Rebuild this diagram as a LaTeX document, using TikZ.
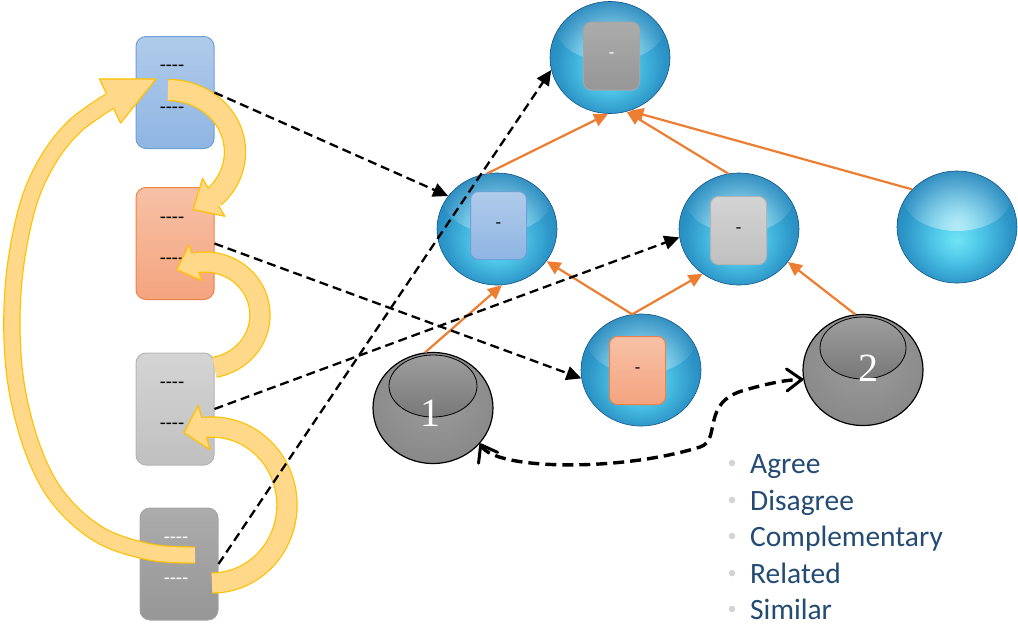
\documentclass[tikz,border=0pt]{standalone}
\usepackage{fontspec}
\setmainfont{Carlito}
\newfontfamily\numfont{Liberation Serif}
\newfontfamily\calfont{Carlito}
\usetikzlibrary{arrows.meta,shapes.geometric,fadings,calc}
\definecolor{glowc}{RGB}{112,228,245}
\definecolor{glow2}{RGB}{78,198,232}
\definecolor{midc}{RGB}{45,150,200}
\definecolor{darkb}{RGB}{30,120,175}
\definecolor{rimb}{RGB}{22,98,150}
\definecolor{rimc}{RGB}{18,85,135}
\definecolor{gball1}{RGB}{158,158,158}
\definecolor{gball2}{RGB}{120,120,120}
\definecolor{bluetop}{RGB}{176,203,234}
\definecolor{bluebot}{RGB}{143,181,227}
\definecolor{bluebd}{RGB}{110,160,216}
\definecolor{ortop}{RGB}{247,193,166}
\definecolor{orbot}{RGB}{244,164,127}
\definecolor{orbd}{RGB}{238,130,70}
\definecolor{lgtop}{RGB}{212,212,212}
\definecolor{lgbot}{RGB}{192,192,192}
\definecolor{lgbd}{RGB}{180,180,180}
\definecolor{dgtop}{RGB}{172,172,172}
\definecolor{dgbot}{RGB}{150,150,150}
\definecolor{dgbd}{RGB}{165,165,165}
\definecolor{yfill}{RGB}{255,216,138}
\definecolor{yborder}{RGB}{255,192,0}
\definecolor{linkor}{RGB}{237,125,49}
\definecolor{textblue}{RGB}{35,75,115}
\definecolor{bulletc}{RGB}{212,212,212}
\pgfdeclareradialshading{glossy}{\pgfpoint{0bp}{-6bp}}{color(0bp)=(glowc); color(10bp)=(glow2); color(22bp)=(midc); color(34bp)=(darkb); color(44bp)=(rimb); color(50bp)=(rimc)}
\pgfdeclareradialshading{grayball}{\pgfpoint{0bp}{8bp}}{color(0bp)=(gball1); color(50bp)=(gball2)}
\tikzfading[name=glossfade, inner color=transparent!45, outer color=transparent!100]
\newcommand\qdash{-\kern0pt-\kern0pt-\kern0pt-}
\newcommand\yband[3]{%
  \draw[yborder, line width=#2] #1;
  \draw[yfill, line width=#3] #1;}
\newcommand\yhead[4]{%
  \filldraw[draw=yborder, fill=yfill, line width=1.2pt, line join=round] (#2) -- ($(#1)!#3!90:(#2)$) -- ($(#1)!#3!-90:(#2)$) -- cycle;
  \draw[yfill, line width=#4] ($(#1)!-1.5pt!(#2)$) -- ($(#1)!2pt!(#2)$);}
\begin{document}
\begin{tikzpicture}[x=1pt,y=-1pt,
  box/.style={rectangle, rounded corners=10pt, minimum width=78pt, minimum height=112pt, inner sep=0pt, line width=1pt},
  bluebox/.style={box, draw=bluebd, top color=bluetop, bottom color=bluebot},
  orbox/.style={box, draw=orbd, top color=ortop, bottom color=orbot},
  lgbox/.style={box, draw=lgbd, top color=lgtop, bottom color=lgbot},
  dgbox/.style={box, draw=dgbd, top color=dgtop, bottom color=dgbot},
  ibox/.style={rectangle, rounded corners=8pt, minimum width=56pt, minimum height=68pt, inner sep=0pt, line width=1pt, font=\calfont\fontsize{18}{18}\selectfont},
  dtext/.style={anchor=base, inner sep=0pt, font=\calfont\fontsize{20}{20}\selectfont},
  sphere/.style={ellipse, minimum width=120pt, minimum height=112pt, inner sep=0pt, draw=rimc, line width=0.6pt, shade, shading=glossy,
    path picture={\fill[white, path fading=glossfade] ($(path picture bounding box.center)+(0,-30)$) ellipse [x radius=54, y radius=34];}},
  darkball/.style={ellipse, minimum width=120pt, minimum height=111pt, inner sep=0pt, draw=black, line width=1.2pt, shade, shading=grayball},
  numtext/.style={inner sep=0pt, text=white, font=\numfont\fontsize{40}{40}\selectfont},
  olink/.style={draw=linkor, line width=2.2pt, -{Triangle[width=13pt,length=14pt]}},
  dlink/.style={draw=black, line width=2.3pt, dash pattern=on 9pt off 5pt, -{Triangle[width=14pt,length=15pt]}},
  listtext/.style={anchor=base west, inner sep=0pt, text=textblue, font=\fontsize{29.5}{29.5}\selectfont}
]
\useasboundingbox (0,0) rectangle (1018,625);

% left boxes
\node[bluebox] (bb) at (175,92.5) {};
\node[orbox] (ob) at (175,243.5) {};
\node[lgbox] (gb) at (175,409) {};
\node[dgbox] (db) at (179,564) {};
\node[dtext] (bbt1) at (172,71) {\qdash};
\node[dtext] (bbt2) at (172,113) {\qdash};
\node[dtext] (obt1) at (172,223) {\qdash};
\node[dtext] (obt2) at (172,264) {\qdash};
\node[dtext] (gbt1) at (172,388) {\qdash};
\node[dtext] (gbt2) at (172,429) {\qdash};
\node[dtext, text=white] (dbt1) at (176,543) {\qdash};
\node[dtext, text=white] (dbt2) at (176,584) {\qdash};

% spheres
\node[sphere] (t) at (610,57.5) {};
\node[sphere] (b) at (497,229) {};
\node[sphere] (g) at (739,229) {};
\node[sphere] (c) at (957,227) {};
\node[sphere] (o) at (641,370) {};
\node[ibox, draw=dgbd, top color=dgtop, bottom color=dgbot, text=white] (ti) at (611.5,56) {-};
\node[ibox, draw=bluebd, top color=bluetop, bottom color=bluebot] (bi) at (498.5,225.5) {-};
\node[ibox, draw=lgbd, top color=lgtop, bottom color=lgbot] (gi) at (738.5,230.5) {-};
\node[ibox, draw=orbd, top color=ortop, bottom color=orbot] (oi) at (637.5,370.5) {-};

% dark balls
\node[darkball] (d1) at (433,408) {};
\node[darkball] (d2) at (863,370) {};
\draw[black, line width=0.8pt, top color=gball1, bottom color=gball2] ($(d1)+(0,-22)$) ellipse [x radius=44, y radius=31];
\draw[black, line width=0.8pt, top color=gball1, bottom color=gball2] ($(d2)+(0,-22)$) ellipse [x radius=43, y radius=31];
\node[numtext] (n1) at (430,413) {1};
\node[numtext] (n2) at (868,368) {2};

% orange links
\draw[olink] (b.100) -- (t.-92);
\draw[olink] (g.101) -- (t.-73);
\draw[olink] (c.140) -- (t.-70);
\draw[olink] (o.99) -- (b.-33);
\draw[olink] (o.99) -- (g.-129);
\draw[olink] (d2.98) -- (g.-34);
\draw[olink] (d1.98) -- (b.-85);

% yellow block arrows
\coordinate (Ab) at ({168+67*cos(-47)},{152-62*sin(-47)});
\coordinate (Aa) at ({168+67*cos(-68)},{152-62*sin(-68)});
\yband{plot[domain=90:-47,samples=40,variable=\t] ({168+67*cos(\t)},{152-62*sin(\t)})}{22.4pt}{20pt}
\yhead{Ab}{Aa}{22pt}{20pt}
\coordinate (Bb) at ({205+55*cos(100)},{315-53*sin(100)});
\coordinate (Ba) at ({205+55*cos(121)},{315-53*sin(121)});
\yband{plot[domain=-80:100,samples=40,variable=\t] ({205+55*cos(\t)},{315-53*sin(\t)})}{21.4pt}{19pt}
\yhead{Bb}{Ba}{19pt}{19pt}
\coordinate (Cb) at ({212+75*cos(96)},{505-78*sin(96)});
\coordinate (Ca) at ({212+75*cos(112)},{505-78*sin(112)});
\yband{plot[domain=-90:96,samples=50,variable=\t] ({212+75*cos(\t)},{505-78*sin(\t)})}{21.4pt}{19pt}
\yhead{Cb}{Ca}{23pt}{19pt}
\coordinate (Db) at (110,101);
\coordinate (Da) at (156,79);
\yband{plot[smooth, tension=0.6] coordinates {(195,555) (150,552) (100,535) (60,500) (35,455) (18,395) (12,335) (15,270) (28,205) (48,160) (75,126) (110,101)}}{17.4pt}{15pt}
\yhead{Db}{Da}{24.5pt}{15pt}

% dashed links
\draw[dlink] (bb.east) -- (b.146);
\draw[dlink] (ob.east) -- (o.188);
\draw[dlink] (gb.east) -- (g.188);
\draw[dlink] (db.east) -- (t.192);

% curved relation arrow
\draw[black, line width=3.4pt, dash pattern=on 11pt off 6pt,
  {Straight Barb[length=15pt,width=22pt,line width=3pt,round]}-{Straight Barb[length=15pt,width=22pt,line width=3pt,round]}]
  (d1.-37) .. controls (495,470) and (620,472) .. (700,447)
  .. controls (722,440) and (700,402) .. (745,390)
  .. controls (770,383) and (785,380) .. (d2.189);

% list
\foreach \txt/\yy [count=\i] in {Agree/473, Disagree/510, Complementary/546, Related/583, Similar/619} {
  \node[listtext] (item\i) at (750,\yy) {\txt};
  \fill[bulletc] (732,\yy-10) circle[radius=3.3pt];
}
\end{tikzpicture}
\end{document}
